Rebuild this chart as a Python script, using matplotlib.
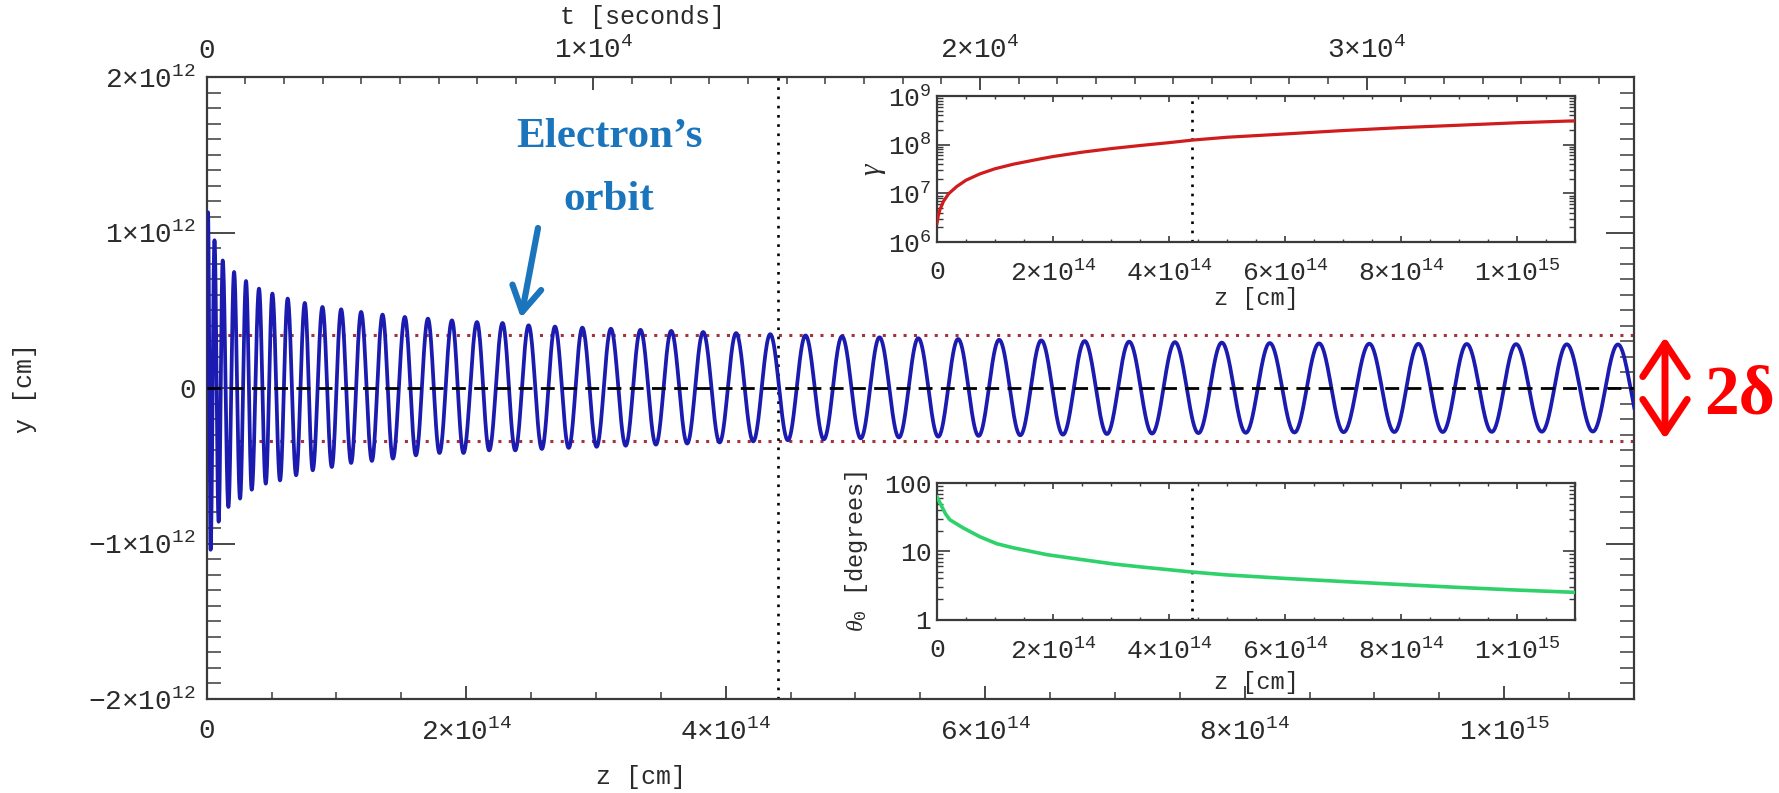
import numpy as np
import matplotlib
matplotlib.use("Agg")
import matplotlib.pyplot as plt
from matplotlib.ticker import FixedLocator, FixedFormatter, MultipleLocator, LogLocator, NullFormatter

# ---------------- data ----------------
# orbit extrema: z in units of 1e13 cm, y in units of 1e12 cm
orbit_start_z = [0.0]
orbit_start_y = [0.0]
orbit_peak_z = [0.10, 0.60, 1.234, 2.11, 3.03, 4.03, 5.06, 6.24, 7.56, 8.92, 10.36, 11.90,
                13.55, 15.27, 17.05, 18.90, 20.83, 22.80, 24.81, 26.84, 28.95, 31.15, 33.43,
                35.80, 38.26, 40.80, 43.43, 46.15, 48.96, 51.85, 54.84, 57.91, 61.07, 64.32,
                67.66, 71.09, 74.62, 78.23, 81.93, 85.73, 89.60, 93.38, 97.11, 100.91, 104.82,
                108.76]
orbit_peak_y = [1.13, 0.95, 0.82, 0.746, 0.688, 0.639, 0.607, 0.575, 0.547, 0.521, 0.506, 0.489,
                0.472, 0.457, 0.446, 0.435, 0.424, 0.418, 0.403, 0.395, 0.388, 0.381, 0.374,
                0.367, 0.360, 0.353, 0.346, 0.338, 0.332, 0.326, 0.320, 0.315, 0.310, 0.306,
                0.302, 0.298, 0.295, 0.292, 0.289, 0.287, 0.285, 0.284, 0.283, 0.282, 0.281,
                0.280]
orbit_trough_z = [0.30, 0.92, 1.67, 2.57, 3.47, 4.55, 5.65, 6.89, 8.17, 9.64, 11.13, 12.73,
                  14.35, 16.12, 17.94, 19.79, 21.77, 23.78, 25.83, 27.90, 30.05, 32.29, 34.62,
                  37.03, 39.53, 42.12, 44.79, 47.56, 50.41, 53.35, 56.38, 59.49, 62.70, 65.99,
                  69.38, 72.86, 76.43, 80.08, 83.83, 87.62, 91.53, 95.26, 99.04, 102.90, 106.83,
                  110.70]
orbit_trough_y = [-1.04, -0.86, -0.765, -0.711, -0.654, -0.615, -0.594, -0.561, -0.529, -0.508,
                  -0.482, -0.469, -0.454, -0.433, -0.418, -0.418, -0.401, -0.401, -0.392, -0.385,
                  -0.378, -0.371, -0.364, -0.357, -0.350, -0.343, -0.336, -0.330, -0.324, -0.318,
                  -0.313, -0.308, -0.304, -0.300, -0.296, -0.293, -0.290, -0.288, -0.286, -0.284,
                  -0.283, -0.283, -0.282, -0.281, -0.280, -0.280]

delta = 3.4e11          # half-width of the red dotted band
z_mark = 4.4e14         # vertical dotted line

# inset: Lorentz factor gamma vs z (z in 1e14 cm)
gamma_z = [0.0, 0.02, 0.05, 0.11, 0.2, 0.34, 0.5, 0.74, 1.0, 1.32, 1.78, 2.0, 2.5, 3.0, 3.5,
           4.0, 4.4, 5.0, 6.0, 7.0, 8.0, 9.0, 10.0, 11.0]
gamma_val = [2.4e6, 3.4e6, 4.6e6, 6.8e6, 9.8e6, 1.38e7, 1.86e7, 2.51e7, 3.2e7, 3.98e7, 5.1e7,
             5.7e7, 7.0e7, 8.3e7, 9.6e7, 1.10e8, 1.24e8, 1.42e8, 1.66e8, 1.95e8, 2.24e8,
             2.51e8, 2.82e8, 3.09e8]

# inset: theta_0 [degrees] vs z (z in 1e14 cm)
theta_z = [0.0, 0.02, 0.08, 0.15, 0.22, 0.45, 0.74, 1.03, 1.32, 1.90, 2.47, 3.05, 3.51, 4.4,
           5.0, 6.0, 7.0, 8.0, 9.0, 10.0, 11.0]
theta_val = [62.0, 58.0, 45.5, 35.0, 29.0, 22.0, 16.3, 12.9, 11.2, 8.9, 7.6, 6.5, 5.9, 4.96,
             4.5, 4.0, 3.6, 3.25, 2.95, 2.7, 2.5]

# tick values / labels
z_ticks = [0, 2e14, 4e14, 6e14, 8e14, 1e15]
z_labels = ["0", "2×10$^{14}$", "4×10$^{14}$", "6×10$^{14}$", "8×10$^{14}$", "1×10$^{15}$"]
y_ticks = [-2e12, -1e12, 0, 1e12, 2e12]
y_labels = ["−2×10$^{12}$", "−1×10$^{12}$", "0", "1×10$^{12}$", "2×10$^{12}$"]
t_ticks = [0, 1e4, 2e4, 3e4]
t_labels = ["0", "1×10$^{4}$", "2×10$^{4}$", "3×10$^{4}$"]
g_ticks = [1e6, 1e7, 1e8, 1e9]
g_labels = ["10$^{6}$", "10$^{7}$", "10$^{8}$", "10$^{9}$"]
th_ticks = [1, 10, 100]
th_labels = ["1", "10", "100"]

z_max = 1.1e15
c_eff = 2.98e10   # z / t relation

# ---------------- style ----------------
FONT = "Liberation Mono"
plt.rcParams["font.family"] = [FONT, "DejaVu Sans"]
plt.rcParams["mathtext.fontset"] = "custom"
plt.rcParams["mathtext.rm"] = FONT
plt.rcParams["mathtext.it"] = "Liberation Serif:italic"
plt.rcParams["mathtext.default"] = "rm"
TXT = "#2b2b2b"
SP = "#3a3a3a"

W, H = 1779, 793
fig = plt.figure(figsize=(W / 100, H / 100), dpi=100)


def fx(px):
    return px / W


def fy(py):
    return 1 - py / H


# ---------------- main axes ----------------
ax = fig.add_axes([fx(206.7), fy(699), fx(1634 - 206.7), (699 - 77) / H])

# build the orbit curve through the read extrema (half-cosine between extrema)
ez = np.array(orbit_start_z + orbit_peak_z + orbit_trough_z) * 1e13
ey = np.array(orbit_start_y + orbit_peak_y + orbit_trough_y) * 1e12
order = np.argsort(ez)
ez, ey = ez[order], ey[order]
zs, ys = [], []
for i in range(len(ez) - 1):
    f = np.linspace(0, 1, 40, endpoint=False)
    a, b = ey[i], ey[i + 1]
    zs.append(ez[i] + f * (ez[i + 1] - ez[i]))
    ys.append((a + b) / 2 + (a - b) / 2 * np.cos(np.pi * f))
zs = np.concatenate(zs + [[ez[-1]]])
ys = np.concatenate(ys + [[ey[-1]]])

ax.plot(zs, ys, color="#1b1bb0", lw=2.7, zorder=3)
ax.axhline(0, color="black", lw=2.0, ls=(0, (5, 3)), zorder=4)
ax.axhline(delta, color="#a8323c", lw=2.2, ls=(0, (1, 2.4)), zorder=2)
ax.axhline(-delta, color="#a8323c", lw=2.2, ls=(0, (1, 2.4)), zorder=2)
ax.axvline(z_mark, color="black", lw=1.9, ls=(0, (1, 2.5)), zorder=2)

ax.set_xlim(0, z_max)
ax.set_ylim(-2e12, 2e12)
ax.xaxis.set_major_locator(FixedLocator(z_ticks))
ax.xaxis.set_major_formatter(FixedFormatter(z_labels))
ax.xaxis.set_minor_locator(MultipleLocator(0.5e14))
ax.yaxis.set_major_locator(FixedLocator(y_ticks))
ax.yaxis.set_major_formatter(FixedFormatter(y_labels))
ax.yaxis.set_minor_locator(MultipleLocator(1e11))
ax.tick_params(axis="x", which="major", direction="in", length=9.4, width=1.3, colors=SP,
               labelcolor=TXT, labelsize=20, pad=14, top=False)
ax.tick_params(axis="x", which="minor", direction="in", length=4.7, width=1.1, colors=SP, top=False)
ax.tick_params(axis="y", which="major", direction="in", length=20, width=1.3, colors=SP,
               labelcolor=TXT, labelsize=20, pad=8, right=True)
ax.tick_params(axis="y", which="minor", direction="in", length=10, width=1.1, colors=SP, right=True)
for s in ax.spines.values():
    s.set_color(SP)
    s.set_linewidth(1.6)

# top axis: time
axt = ax.twiny()
axt.set_xlim(0, z_max / c_eff)
axt.xaxis.set_major_locator(FixedLocator(t_ticks))
axt.xaxis.set_major_formatter(FixedFormatter(t_labels))
axt.xaxis.set_minor_locator(MultipleLocator(1e3))
axt.tick_params(axis="x", which="major", direction="in", length=9.4, width=1.3, colors=SP,
                labelcolor=TXT, labelsize=20, pad=9)
axt.tick_params(axis="x", which="minor", direction="in", length=4.7, width=1.1, colors=SP)
for s in axt.spines.values():
    s.set_visible(False)

fig.text(fx(643), fy(17), "t [seconds]", ha="center", va="center", fontsize=18, color=TXT)
fig.text(fx(641), fy(777), "z [cm]", ha="center", va="center", fontsize=18, color=TXT)
fig.text(fx(25), fy(388), "y [cm]", ha="center", va="center", rotation=90, fontsize=18, color=TXT)


def style_inset(a):
    a.set_facecolor("white")
    for s in a.spines.values():
        s.set_color(SP)
        s.set_linewidth(1.6)
    a.set_xlim(0, z_max)
    a.xaxis.set_major_locator(FixedLocator(z_ticks))
    a.xaxis.set_major_formatter(FixedFormatter(z_labels))
    a.xaxis.set_minor_locator(MultipleLocator(0.5e14))
    a.tick_params(axis="x", which="major", direction="in", length=4.5, width=1.2, colors=SP,
                  labelcolor=TXT, labelsize=19, pad=13, top=True)
    a.tick_params(axis="x", which="minor", direction="in", length=2.3, width=1.0, colors=SP, top=True)
    a.tick_params(axis="y", which="major", direction="in", length=9, width=1.2, colors=SP,
                  labelcolor=TXT, labelsize=19, pad=4, right=True)
    a.tick_params(axis="y", which="minor", direction="in", length=4.5, width=1.0, colors=SP, right=True)
    a.axvline(z_mark, color="black", lw=1.9, ls=(0, (1, 2.5)), zorder=2)


# ---------------- inset 1: gamma ----------------
a1 = fig.add_axes([fx(937), fy(242), fx(1575 - 937), (242 - 96) / H])
a1.set_yscale("log")
a1.plot(np.array(gamma_z) * 1e14, gamma_val, color="#d01c1c", lw=2.3, zorder=3)
a1.set_ylim(1e6, 1e9)
a1.yaxis.set_major_locator(FixedLocator(g_ticks))
a1.yaxis.set_major_formatter(FixedFormatter(g_labels))
a1.yaxis.set_minor_locator(LogLocator(base=10, subs=np.arange(2, 10)))
a1.yaxis.set_minor_formatter(NullFormatter())
style_inset(a1)
fig.text(fx(1256), fy(299), "z [cm]", ha="center", va="center", fontsize=17, color=TXT)
fig.text(fx(872), fy(169), "γ", ha="center", va="center", rotation=90, fontsize=21,
         color=TXT, family=["Liberation Serif"], style="italic")

# ---------------- inset 2: theta_0 ----------------
a2 = fig.add_axes([fx(937), fy(619.5), fx(1575 - 937), (619.5 - 483) / H])
a2.set_yscale("log")
a2.plot(np.array(theta_z) * 1e14, theta_val, color="#2fd16a", lw=2.6, zorder=3)
a2.set_ylim(1, 100)
a2.yaxis.set_major_locator(FixedLocator(th_ticks))
a2.yaxis.set_major_formatter(FixedFormatter(th_labels))
a2.yaxis.set_minor_locator(LogLocator(base=10, subs=np.arange(2, 10)))
a2.yaxis.set_minor_formatter(NullFormatter())
style_inset(a2)
fig.text(fx(1256), fy(683), "z [cm]", ha="center", va="center", fontsize=17, color=TXT)
fig.text(fx(857), fy(551), r"$\mathit{\theta}_{0}$ [degrees]", ha="center", va="center",
         rotation=90, fontsize=17, color=TXT)

# ---------------- annotations ----------------
BLUE = "#1b75bc"
fig.text(fx(609), fy(147), "Electron’s", ha="center", va="baseline", fontsize=31,
         fontweight="bold", color=BLUE, family=["Liberation Serif"])
fig.text(fx(609), fy(210), "orbit", ha="center", va="baseline", fontsize=31,
         fontweight="bold", color=BLUE, family=["Liberation Serif"])
fig.add_artist(matplotlib.patches.FancyArrowPatch(
    (fx(538), fy(228)), (fx(521), fy(318)), transform=fig.transFigure,
    arrowstyle="->,head_length=0.6,head_width=0.35", mutation_scale=30,
    color=BLUE, lw=4.5, shrinkA=0, shrinkB=0))

fig.add_artist(matplotlib.patches.FancyArrowPatch(
    (fx(1665), fy(337)), (fx(1665), fy(439)), transform=fig.transFigure,
    arrowstyle="<->,head_length=0.6,head_width=0.4", mutation_scale=40,
    color="#ff0000", lw=5, shrinkA=0, shrinkB=0))
fig.text(fx(1704), fy(413), "2δ", ha="left", va="baseline", fontsize=50, fontweight="bold",
         color="#ff0000", family=["Liberation Serif"])

fig.savefig("out.png", dpi=100)
